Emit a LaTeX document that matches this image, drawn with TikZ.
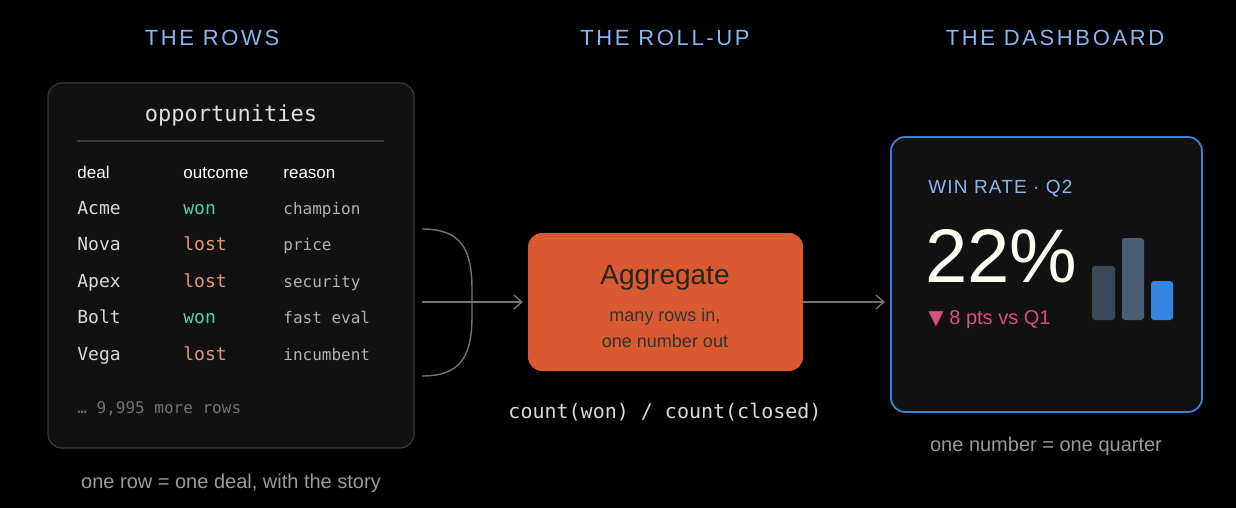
\documentclass[tikz,border=0pt]{standalone}
\usepackage{fontspec}
\setmainfont{Liberation Sans}
\setsansfont{Liberation Sans}
\setmonofont{DejaVu Sans Mono}
\newfontfamily\symfont{DejaVu Sans}
\usetikzlibrary{arrows.meta, positioning, calc}

\definecolor{bgblack}{HTML}{000000}
\definecolor{cardfill}{HTML}{111111}
\definecolor{cardline}{HTML}{3A3A3A}
\definecolor{titleblue}{HTML}{8AB4F0}
\definecolor{aggorange}{HTML}{D95A30}
\definecolor{dashblue}{HTML}{3B82D6}
\definecolor{woncol}{HTML}{4FD1A5}
\definecolor{lostcol}{HTML}{E9967A}
\definecolor{downpink}{HTML}{D94F7F}
\definecolor{bardark}{HTML}{3A4858}
\definecolor{barmid}{HTML}{4A5E75}
\definecolor{barblue}{HTML}{3584E0}
\definecolor{softgray}{HTML}{9A9A9A}

\begin{document}
\begin{tikzpicture}[
    x=0.5pt, y=-0.5pt,
    heading/.style={font=\fontsize{11}{12}\selectfont\addfontfeatures{LetterSpace=12}, text=titleblue},
    colhead/.style={anchor=base west, inner sep=0pt, font=\fontsize{8.5}{10}\selectfont, text=white},
    cell/.style={anchor=base west, inner sep=0pt, font=\ttfamily\fontsize{9}{10}\selectfont, text=white!85!black},
    why/.style={anchor=base west, inner sep=0pt, font=\ttfamily\fontsize{8}{10}\selectfont, text=white!70!black},
    caption/.style={font=\fontsize{10}{12}\selectfont, text=softgray},
    conn/.style={draw=white!45!black, line width=0.7pt},
    arrow/.style={conn, -{Straight Barb[length=4pt, width=7pt]}},
    bar/.style={rounded corners=1.5pt}
]
    % Canvas
    \fill[bgblack] (0,0) rectangle (1236,508);
    \useasboundingbox (0,0) rectangle (1236,508);

    % Headings
    \node[heading] (h_rows) at (212,38) {THE ROWS};
    \node[heading] (h_roll) at (665,38) {THE ROLL-UP};
    \node[heading] (h_dash) at (1055,38) {THE DASHBOARD};

    % The rows
    \draw[cardline, fill=cardfill, rounded corners=7pt, line width=0.6pt] (48,83) rectangle (414,448);
    \node[font=\ttfamily\fontsize{11}{12}\selectfont, text=white!88!black] (tbl_name) at (231,115) {opportunities};
    \draw[cardline, line width=0.6pt] (77,141) -- (384,141);
    \node[colhead] (c_deal) at (77,178) {deal};
    \node[colhead] (c_out) at (183,178) {outcome};
    \node[colhead] (c_why) at (283,178) {reason};
    \foreach \name/\res/\rcol/\reason [count=\i] in
        {Acme/won/woncol/champion, Nova/lost/lostcol/price, Apex/lost/lostcol/security,
         Bolt/won/woncol/fast eval, Vega/lost/lostcol/incumbent} {
        \pgfmathsetmacro\ry{214+36.5*(\i-1)}
        \node[cell] (deal\i) at (77,\ry) {\name};
        \node[cell, text=\rcol] (res\i) at (183,\ry) {\res};
        \node[why] (why\i) at (283,\ry) {\reason};
    }
    \node[why, text=white!45!black] (more) at (77,413) {… 9,995 more rows};
    \node[caption] (cap_rows) at (231,483) {one row = one deal, with the story};

    % Roll-up
    \node[draw=none, fill=aggorange, rounded corners=7pt, minimum width=137.5pt, minimum height=69pt] (agg) at (665.5,302) {};
    \node[font=\fontsize{14}{16}\selectfont, text=black!85] (agg_title) at (665,278) {Aggregate};
    \node[font=\fontsize{9}{13}\selectfont, text=black!80, align=center] (agg_sub) at (665,328) {many rows in,\\one number out};
    \node[font=\ttfamily\fontsize{10}{12}\selectfont, text=white!85!black] (formula) at (665,412) {count(won) / count(closed)};

    % Brace and arrows
    \coordinate (br_top) at (422,229);
    \coordinate (br_mid) at (422,302);
    \coordinate (br_bot) at (422,376);
    \coordinate (agg_in) at (523,302);
    \draw[conn] (br_top) .. controls (462,229) and (472,250) .. (472,290) -- (472,315)
        .. controls (472,355) and (462,376) .. (br_bot);
    \draw[arrow] (br_mid) -- (agg_in);

    % Dashboard
    \draw[dashblue, fill=cardfill, rounded corners=7pt, line width=0.9pt] (891,137) rectangle (1202,412);
    \coordinate (dash_in) at (885,302);
    \draw[arrow] (agg.east) -- (dash_in);
    \node[anchor=base west, inner sep=0pt, font=\fontsize{9.5}{11}\selectfont\addfontfeatures{LetterSpace=6}, text=titleblue] (kpi_label) at (928,193) {WIN RATE · Q2};
    \node[anchor=base west, inner sep=0pt, font=\fontsize{38}{40}\selectfont, text=white!95!yellow] (kpi) at (925,282) {22\%};
    \node[anchor=base west, inner sep=0pt, font=\fontsize{10}{12}\selectfont, text=downpink] (delta) at (928,324) {{\symfont ▼} 8 pts vs Q1};
    \fill[bardark, bar] (1092,266) rectangle (1115,320);
    \fill[barmid, bar] (1122,238) rectangle (1144,320);
    \fill[barblue, bar] (1151,281) rectangle (1173,320);
    \node[caption] (cap_dash) at (1046,446) {one number = one quarter};
\end{tikzpicture}
\end{document}
